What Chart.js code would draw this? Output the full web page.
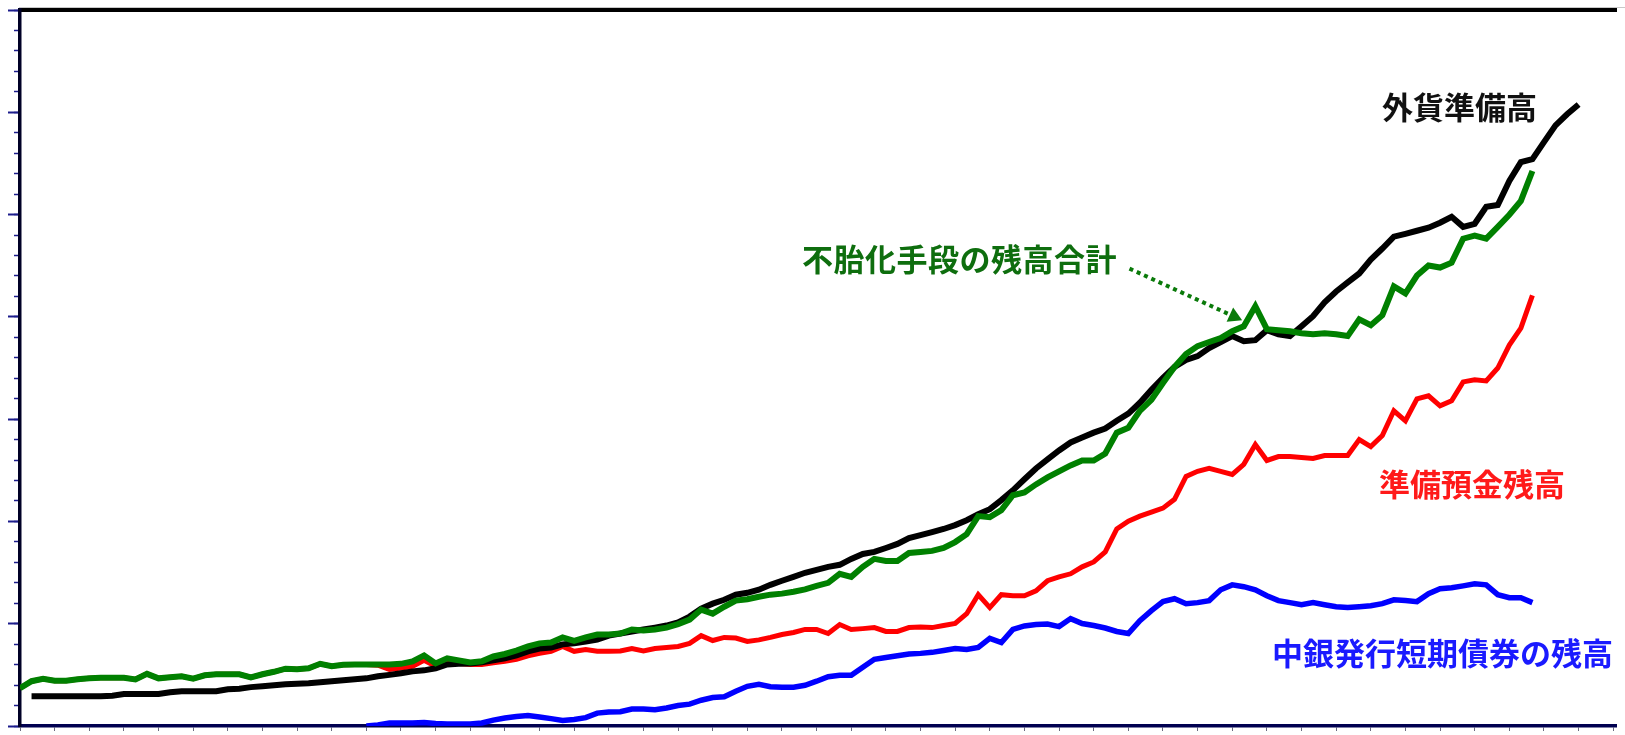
<!DOCTYPE html>
<html>
<head>
<meta charset="utf-8">
<script src="https://cdn.jsdelivr.net/npm/chart.js@4.4.1/dist/chart.umd.min.js"></script>
<style>
  html, body { margin: 0; padding: 0; background: #fff; }
  #wrap { position: relative; width: 1625px; height: 735px; overflow: hidden; }
  #topline { position: absolute; left: 19px; right: 0; top: 7px; height: 1px; background: #c8c8c8; }
  .lbl {
    position: absolute; white-space: nowrap;
    font-family: "Noto Sans CJK JP", "Noto Sans CJK SC", sans-serif;
    font-weight: bold; font-size: 31px; line-height: 31px;
  }
</style>
</head>
<body>
<div id="wrap">
  <div id="topline"></div>
  <canvas id="chart" width="1625" height="735"></canvas>
  <div class="lbl" style="left:1382px; top:90px; color:#111;">外貨準備高</div>
  <div class="lbl" style="left:802px; top:242px; color:#0e6e0e; letter-spacing:0.5px;">不胎化手段の残高合計</div>
  <div class="lbl" style="left:1379px; top:467px; color:#ff1a1a;">準備預金残高</div>
  <div class="lbl" style="left:1272px; top:636px; color:#1a1aff;">中銀発行短期債券の残高</div>
</div>
<script>
// monthly observations, index 0 = first month on the axis; ticks every quarter
const months = Array.from({ length: 136 }, (_, i) => i);

// 外貨準備高
const reserves = [null,
  1.46, 1.46, 1.46, 1.46, 1.46, 1.46, 1.46, 1.48, 1.56, 1.56,
  1.56, 1.56, 1.65, 1.70, 1.70, 1.70, 1.70, 1.80, 1.82, 1.90,
  1.94, 1.99, 2.04, 2.07, 2.09, 2.14, 2.19, 2.24, 2.28, 2.33,
  2.43, 2.50, 2.58, 2.67, 2.72, 2.82, 3.01, 3.04, 3.06, 3.11,
  3.21, 3.31, 3.45, 3.65, 3.79, 3.84, 3.99, 4.04, 4.13, 4.23,
  4.42, 4.52, 4.62, 4.72, 4.81, 4.91, 5.06, 5.35, 5.74, 5.98,
  6.17, 6.42, 6.51, 6.66, 6.90, 7.10, 7.29, 7.49, 7.63, 7.78,
  7.88, 8.17, 8.41, 8.51, 8.70, 8.90, 9.19, 9.33, 9.48, 9.63,
  9.82, 10.06, 10.35, 10.60, 11.04, 11.52, 12.06, 12.59, 13.03, 13.47,
  13.86, 14.10, 14.34, 14.54, 14.92, 15.27, 15.80, 16.43, 17.02, 17.55,
  17.89, 18.08, 18.47, 18.77, 19.06, 18.81, 18.86, 19.35, 19.15, 19.06,
  19.54, 20.03, 20.71, 21.24, 21.68, 22.12, 22.80, 23.34, 23.92, 24.06,
  24.21, 24.36, 24.60, 24.89, 24.40, 24.55, 25.38, 25.47, 26.64, 27.56,
  27.71, 28.54, 29.36, 29.90, 30.38];

// 不胎化手段の残高合計
const sterilTotal = [
  1.85, 2.19, 2.31, 2.21, 2.21, 2.28, 2.33, 2.36, 2.36, 2.36,
  2.28, 2.55, 2.33, 2.38, 2.43, 2.31, 2.48, 2.53, 2.53, 2.53,
  2.38, 2.53, 2.65, 2.80, 2.77, 2.82, 3.04, 2.92, 2.99, 3.01,
  3.01, 3.01, 3.01, 3.04, 3.16, 3.45, 3.06, 3.31, 3.21, 3.11,
  3.16, 3.40, 3.52, 3.69, 3.89, 4.04, 4.08, 4.33, 4.16, 4.33,
  4.47, 4.47, 4.52, 4.72, 4.67, 4.72, 4.81, 4.98, 5.20, 5.69,
  5.49, 5.83, 6.13, 6.20, 6.32, 6.42, 6.47, 6.56, 6.68, 6.85,
  7.00, 7.44, 7.29, 7.78, 8.17, 8.07, 8.07, 8.46, 8.51, 8.56,
  8.70, 8.99, 9.38, 10.26, 10.21, 10.55, 11.28, 11.42, 11.81, 12.15,
  12.45, 12.74, 12.98, 12.98, 13.32, 14.34, 14.58, 15.41, 15.95, 16.77,
  17.55, 18.18, 18.57, 18.77, 18.96, 19.30, 19.54, 20.52, 19.40, 19.35,
  19.30, 19.20, 19.15, 19.20, 19.15, 19.06, 19.88, 19.59, 20.08, 21.49,
  21.15, 22.02, 22.51, 22.41, 22.65, 23.82, 23.97, 23.82, 24.40, 24.99,
  25.67, 27.13];

// 準備預金残高
const reserveDeposits = [
  1.85, 2.19, 2.31, 2.21, 2.21, 2.28, 2.33, 2.36, 2.36, 2.36,
  2.28, 2.55, 2.33, 2.38, 2.43, 2.31, 2.48, 2.53, 2.53, 2.53,
  2.38, 2.53, 2.65, 2.80, 2.77, 2.82, 3.04, 2.92, 2.99, 3.01,
  3.01, 2.97, 2.77, 2.84, 2.92, 3.21, 2.92, 3.11, 3.06, 3.01,
  3.01, 3.09, 3.16, 3.26, 3.43, 3.55, 3.65, 3.89, 3.65, 3.74,
  3.65, 3.65, 3.67, 3.79, 3.67, 3.79, 3.84, 3.89, 4.04, 4.42,
  4.18, 4.33, 4.30, 4.13, 4.21, 4.33, 4.47, 4.57, 4.72, 4.72,
  4.52, 4.96, 4.72, 4.76, 4.81, 4.62, 4.62, 4.81, 4.84, 4.81,
  4.91, 5.01, 5.49, 6.42, 5.79, 6.42, 6.37, 6.37, 6.61, 7.10,
  7.29, 7.44, 7.78, 8.02, 8.51, 9.63, 10.01, 10.26, 10.45, 10.65,
  11.08, 12.20, 12.45, 12.59, 12.45, 12.30, 12.79, 13.76, 12.98, 13.17,
  13.17, 13.13, 13.08, 13.22, 13.22, 13.22, 14.00, 13.66, 14.20, 15.41,
  14.92, 15.99, 16.14, 15.65, 15.90, 16.82, 16.92, 16.87, 17.50, 18.62,
  19.45, 21.05];

// 中銀発行短期債券の残高 (starts at month 30)
const centralBills = [
  null, null, null, null, null, null, null, null, null, null,
  null, null, null, null, null, null, null, null, null, null,
  null, null, null, null, null, null, null, null, null, null,
  0.00, 0.05, 0.15, 0.15, 0.15, 0.17, 0.12, 0.10, 0.10, 0.10,
  0.15, 0.29, 0.39, 0.46, 0.51, 0.44, 0.36, 0.27, 0.32, 0.41,
  0.63, 0.68, 0.70, 0.83, 0.83, 0.80, 0.88, 1.00, 1.07, 1.26,
  1.39, 1.43, 1.70, 1.94, 2.04, 1.92, 1.90, 1.90, 1.99, 2.19,
  2.41, 2.48, 2.48, 2.87, 3.26, 3.35, 3.43, 3.52, 3.55, 3.60,
  3.69, 3.79, 3.74, 3.84, 4.28, 4.08, 4.72, 4.89, 4.96, 4.98,
  4.86, 5.25, 5.01, 4.91, 4.79, 4.62, 4.52, 5.15, 5.64, 6.08,
  6.22, 5.98, 6.03, 6.13, 6.66, 6.90, 6.81, 6.66, 6.37, 6.13,
  6.03, 5.93, 6.03, 5.93, 5.83, 5.79, 5.83, 5.88, 5.98, 6.17,
  6.13, 6.08, 6.47, 6.71, 6.76, 6.85, 6.95, 6.90, 6.42, 6.27,
  6.27, 6.03];

// dotted pointer from the green label to the series (month, value)
const arrowMonths = [96.1, 105.15];
const arrowValues = [22.36, 20.02];

const xMax = 138.24;   // axis runs past the right edge of the picture
const yMax = 35;

const toPoints = vals => vals.map((v, i) => ({ x: months[i], y: v }));

const line = (label, vals, color, width) => ({
  label,
  data: toPoints(vals),
  borderColor: color,
  borderWidth: width,
  pointRadius: 0,
  tension: 0,
  spanGaps: false,
  xAxisID: 'x',
  yAxisID: 'y',
});

new Chart(document.getElementById('chart'), {
  type: 'line',
  data: {
    datasets: [
      {
        label: 'arrow',
        data: arrowMonths.map((m, i) => ({ x: m, y: arrowValues[i] })),
        borderColor: '#0a7a0a',
        backgroundColor: '#0a7a0a',
        borderWidth: 4,
        borderDash: [4, 4],
        pointRadius: [0, 9],
        pointStyle: 'triangle',
        pointRotation: [0, 114.7],
        pointBackgroundColor: '#0a7a0a',
        pointBorderWidth: 0,
        xAxisID: 'x',
        yAxisID: 'y',
      },
      line('不胎化手段の残高合計', sterilTotal, '#008000', 6),
      line('外貨準備高', reserves, '#000000', 6),
      line('準備預金残高', reserveDeposits, '#ff0000', 5),
      line('中銀発行短期債券の残高', centralBills, '#0000ff', 5.5),
    ],
  },
  options: {
    responsive: false,
    animation: false,
    devicePixelRatio: 1,
    layout: { padding: { top: 10, left: 0, right: 0, bottom: 0 } },
    plugins: { legend: { display: false }, tooltip: { enabled: false } },
    scales: {
      x: {
        type: 'linear', position: 'bottom', min: 0, max: xMax,
        ticks: { display: false, stepSize: 3, includeBounds: false, maxTicksLimit: 1000 },
        grid: { drawOnChartArea: false, tickLength: 5, tickColor: '#6a6a80', tickWidth: 1 },
        border: { color: '#000050', width: 3.5 },
        afterFit: s => { s.height = 5; },
      },
      xTop: {
        type: 'linear', position: 'top', min: 0, max: xMax,
        ticks: { display: false },
        grid: { drawOnChartArea: false, drawTicks: false },
        border: { color: '#000000', width: 4 },
        afterFit: s => { s.height = 0; },
      },
      y: {
        type: 'linear', position: 'left', min: 0, max: yMax, weight: 1,
        ticks: { display: false, stepSize: 5, maxTicksLimit: 1000 },
        grid: { drawOnChartArea: false, tickLength: 12, tickColor: '#1c1c8c', tickWidth: 2 },
        border: { color: '#000026', width: 3.5 },
        afterFit: s => { s.width = 20; },
      },
      yMinor: {
        type: 'linear', position: 'left', min: 0, max: yMax, weight: 0,
        ticks: { display: false, stepSize: 1, maxTicksLimit: 1000 },
        grid: { drawOnChartArea: false, tickLength: 6, tickColor: '#1c1c8c', tickWidth: 1.5 },
        border: { display: false },
        afterFit: s => { s.width = 0; },
      },
    },
  },
});
</script>
</body>
</html>
